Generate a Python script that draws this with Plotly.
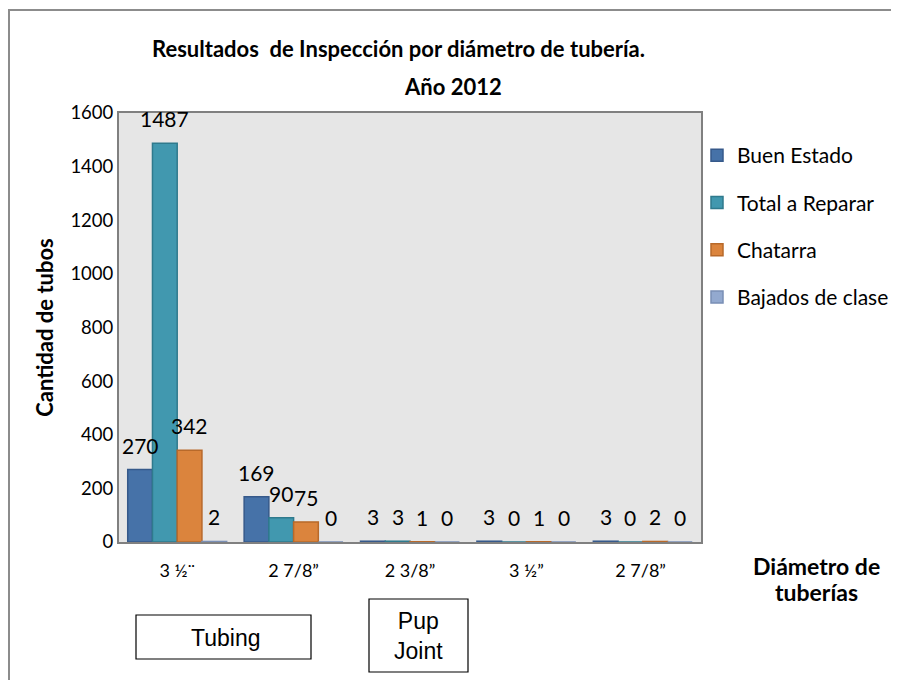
import plotly.graph_objects as go

# categories and series
categories = ["3 ½¨", "2 7/8”", "2 3/8”", "3 ½”", "2 7/8” "]
buen_estado = [270, 169, 3, 3, 3]
total_reparar = [1487, 90, 3, 0, 0]
chatarra = [342, 75, 1, 1, 2]
bajados = [2, 0, 0, 0, 0]

series = [
    ("Buen Estado", buen_estado, "#4672A8", "#36598A"),
    ("Total a Reparar", total_reparar, "#4198AF", "#2F7A8D"),
    ("Chatarra", chatarra, "#DB843D", "#B8692A"),
    ("Bajados de clase", bajados, "#93A9CF", "#7A8FB5"),
]

FONT = "Lato, Open Sans, sans-serif"
NARROW = "Liberation Sans Narrow, Arial Narrow, Arial"

# page body has an 8px margin, so the figure starts at (8, 8)
OFF = 8
W, H = 899 - OFF, 680 - OFF
# plot area in window pixels (for placing decorations)
L, R, T, B = 119, 701, 113, 542
BARGAP = 0.15


def px(x):
    return (x - L) / (R - L)


def py(y):
    return (B - y) / (B - T)


fig = go.Figure()
for name, vals, col, edge in series:
    fig.add_trace(
        go.Bar(
            x=categories,
            y=vals,
            name=name,
            legendgroup=name,
            marker=dict(color=col, line=dict(color=edge, width=1.5)),
            cliponaxis=False,
        )
    )

# data labels sit a bit higher than plotly's "outside" text, so use annotations
cat_w = (R - L) / len(categories)
bar_w = cat_w * (1 - BARGAP) / len(series)
labels = []
for i, (name, vals, col, edge) in enumerate(series):
    for cat, v in zip(categories, vals):
        labels.append(dict(
            x=cat, y=v, xref="x", yref="y", text=str(v), showarrow=False,
            xanchor="center", yanchor="bottom",
            xshift=(i - (len(series) - 1) / 2) * bar_w, yshift=10,
            font=dict(family=FONT, size=21, color="black"),
        ))

shapes = [
    # outer chart border
    dict(type="rect", xref="paper", yref="paper",
         x0=px(9), x1=px(910), y0=py(700), y1=py(10),
         line=dict(color="#8C8C8C", width=2), layer="below"),
    # Tubing box
    dict(type="rect", xref="paper", yref="paper",
         x0=px(136), x1=px(311), y0=py(659), y1=py(615),
         line=dict(color="black", width=1.2)),
    # Pup Joint box
    dict(type="rect", xref="paper", yref="paper",
         x0=px(369), x1=px(468), y0=py(672), y1=py(599),
         line=dict(color="black", width=1.2)),
]


def note(text, x, y, size, family=FONT):
    return dict(text=text, xref="paper", yref="paper", x=px(x), y=py(y),
                xanchor="center", yanchor="middle", showarrow=False, align="center",
                font=dict(family=family, size=size, color="black"))


annotations = labels + [
    note("<b>Resultados  de Inspección por diámetro de tubería.</b>", 398, 49, 22),
    note("<b>Año 2012</b>", 453, 86, 22),
    note("<b>Diámetro de</b>", 816, 566, 23),
    note("<b>tuberías</b>", 816, 592, 23),
    note("Tubing", 225, 638, 23, NARROW),
    note("Pup<br>Joint", 418, 636, 23, NARROW),
]

fig.update_layout(
    width=W,
    height=H,
    margin=dict(l=L - OFF, r=899 - R, t=T - OFF, b=680 - B, autoexpand=False),
    paper_bgcolor="white",
    plot_bgcolor="#E6E6E6",
    barmode="group",
    bargap=BARGAP,
    bargroupgap=0,
    font=dict(family=FONT, size=16, color="black"),
    showlegend=True,
    legend=dict(
        x=px(697), y=py(135), xanchor="left", yanchor="top",
        font=dict(family=FONT, size=21, color="black"),
        tracegroupgap=17, itemwidth=30,
        bgcolor="rgba(0,0,0,0)",
    ),
    shapes=shapes,
    annotations=annotations,
    xaxis=dict(
        showline=True, linecolor="#808080", linewidth=2, mirror=True,
        ticks="", tickfont=dict(family=FONT, size=18), ticklabelstandoff=11,
    ),
    yaxis=dict(
        range=[0, 1600], dtick=200, showgrid=False, zeroline=False,
        showline=True, linecolor="#808080", linewidth=2, mirror=True,
        ticks="", tickfont=dict(family=FONT, size=18.5), ticklabelstandoff=0,
        title=dict(text="<b>Cantidad de tubos</b>", font=dict(family=FONT, size=22), standoff=11),
    ),
)

fig.write_html("out.html")
